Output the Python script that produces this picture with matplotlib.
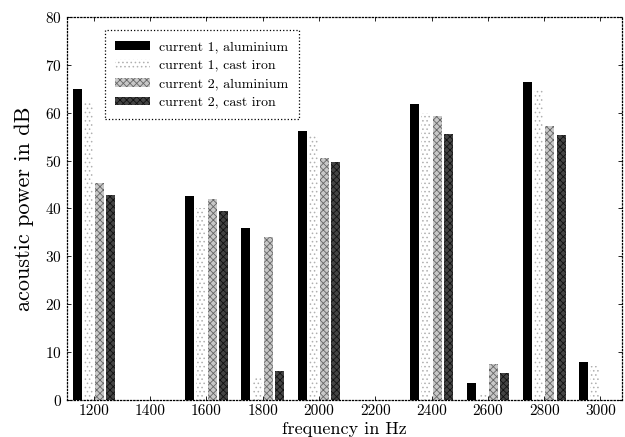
import numpy as np
import matplotlib
matplotlib.use("Agg")
import matplotlib.pyplot as plt

plt.rcParams["font.family"] = ["cmr10", "DejaVu Serif"]
plt.rcParams["axes.formatter.use_mathtext"] = True
plt.rcParams["hatch.linewidth"] = 0.6

# data
freqs = ["1200", "1400", "1600", "1800", "2000", "2200", "2400", "2600", "2800", "3000"]
cur1_alu = [65.0, 0, 42.6, 36.0, 56.2, 0, 61.9, 3.5, 66.4, 8.0]
cur1_iron = [62.5, 0, 40.0, 4.7, 55.3, 0, 60.0, 1.4, 64.9, 7.0]
cur2_alu = [45.3, 0, 42.0, 34.0, 50.5, 0, 59.4, 7.5, 57.2, 0]
cur2_iron = [42.8, 0, 39.5, 6.0, 49.7, 0, 55.5, 5.6, 55.4, 0]

series = [
    ("current 1, aluminium", cur1_alu, "black", None, "black"),
    ("current 1, cast iron", cur1_iron, "white", "....", "#b0b0b0"),
    ("current 2, aluminium", cur2_alu, "#c8c8c8", "xxxxx", "#666666"),
    ("current 2, cast iron", cur2_iron, "#444444", "xxxxx", "#111111"),
]

fig = plt.figure(figsize=(6.25, 4.37), dpi=100)
ax = fig.add_axes([0.107, 0.085, 0.888, 0.876])

x = np.arange(len(freqs))
w = 0.16
offs = [-0.3, -0.1, 0.1, 0.3]
for (lab, vals, fc, hatch, ec), o in zip(series, offs):
    ax.bar(x + o, vals, w, facecolor=fc, hatch=hatch, edgecolor=ec, linewidth=0, label=lab)

ax.set_xlim(-0.48, 9.38)
ax.set_ylim(0, 80)
ax.set_xticks(x)
ax.set_xticklabels(freqs)
ax.set_yticks(range(0, 81, 10))
ax.tick_params(direction="in", top=True, right=True, labelsize=11, length=3, width=0.6)
for s in ax.spines.values():
    s.set_linestyle(":")
    s.set_linewidth(0.9)

ax.set_xlabel("frequency in Hz", fontsize=13, labelpad=2)
ax.set_ylabel("acoustic power in dB", fontsize=16, labelpad=8)

leg = ax.legend(loc="upper left", bbox_to_anchor=(0.068, 0.965), borderaxespad=0,
                fontsize=10, fancybox=False, framealpha=1, edgecolor="black",
                handlelength=2.5, handleheight=0.6, labelspacing=0.45,
                borderpad=0.75, handletextpad=0.7)
leg.get_frame().set_linestyle(":")
leg.get_frame().set_linewidth(0.9)

fig.savefig("out.png", dpi=100)
